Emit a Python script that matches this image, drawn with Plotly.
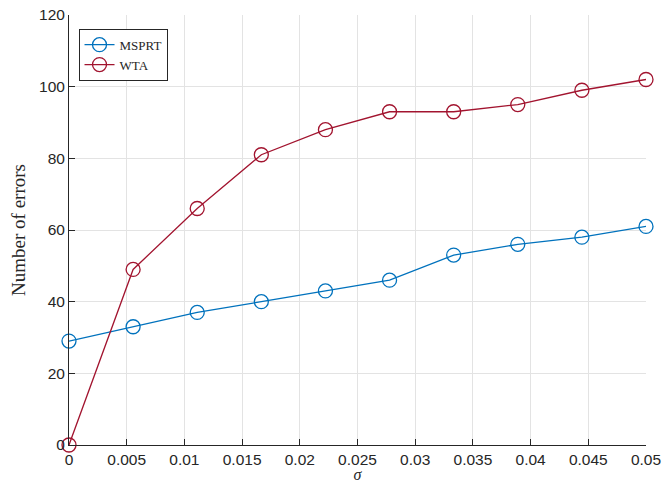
import plotly.graph_objects as go

sigma = [0, 0.05/9, 0.1/9, 0.15/9, 0.2/9, 0.25/9, 0.3/9, 0.35/9, 0.4/9, 0.05]
msprt = [29, 33, 37, 40, 43, 46, 53, 56, 58, 61]
wta = [0, 49, 66, 81, 88, 93, 93, 95, 99, 102]
xticks = [0, 0.005, 0.01, 0.015, 0.02, 0.025, 0.03, 0.035, 0.04, 0.045, 0.05]
xticklabels = ["0", "0.005", "0.01", "0.015", "0.02", "0.025", "0.03", "0.035", "0.04", "0.045", "0.05"]
yticks = [0, 20, 40, 60, 80, 100, 120]

fig = go.Figure()
fig.add_trace(go.Scatter(x=sigma, y=msprt, name="MSPRT", mode="lines+markers",
                         line=dict(color="#0072BD", width=1.3),
                         marker=dict(symbol="circle-open", size=14, color="#0072BD", line=dict(width=1.3)),
                         cliponaxis=False))
fig.add_trace(go.Scatter(x=sigma, y=wta, name="WTA", mode="lines+markers",
                         line=dict(color="#A2142F", width=1.3),
                         marker=dict(symbol="circle-open", size=14, color="#A2142F", line=dict(width=1.3)),
                         cliponaxis=False))

axis_common = dict(showgrid=True, gridcolor="#e3e3e3", gridwidth=1, zeroline=False,
                   showline=True, linecolor="#262626", linewidth=1,
                   ticks="inside", ticklen=6, tickcolor="#262626", automargin=False,
                   ticklabeloverflow="allow",
                   tickfont=dict(family="Liberation Sans, Arial", size=15.5, color="#262626"))

fig.update_xaxes(range=[0, 0.05], tickvals=xticks, ticktext=xticklabels,
                 title=dict(text="<i>σ</i>", font=dict(family="Liberation Serif", size=16, color="#262626"), standoff=30),
                 **axis_common)
fig.update_yaxes(range=[0, 120], tickvals=yticks,
                 title=dict(text="Number of errors", font=dict(family="Liberation Serif", size=19, color="#262626"), standoff=8),
                 **axis_common)

# the page body has an 8px margin, so the figure is sized/offset to compensate
fig.update_layout(width=662, height=475, plot_bgcolor="white", paper_bgcolor="white",
                  margin=dict(l=61, r=24, t=7, b=38),
                  legend=dict(x=0.0165, y=0.968, xanchor="left", yanchor="top",
                              bgcolor="white", bordercolor="#262626", borderwidth=1,
                              font=dict(family="Liberation Serif", size=13, color="#262626"),
                              tracegroupgap=0, itemwidth=30))

fig.write_html("out.html")
